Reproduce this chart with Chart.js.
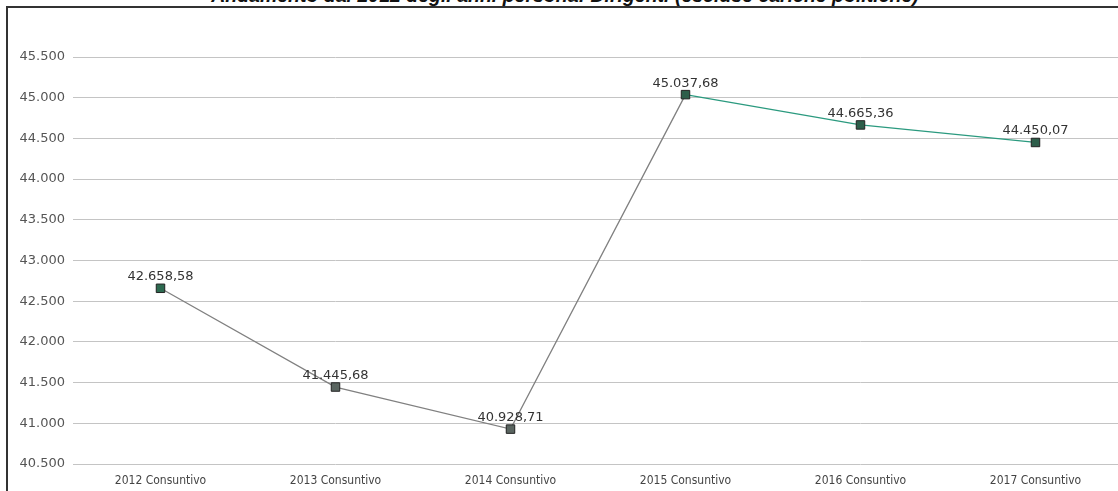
<!DOCTYPE html>
<html lang="it">
<head>
  <meta charset="UTF-8" />
  <title>Andamento anni persona - Dirigenti</title>
  <script src="https://cdn.jsdelivr.net/npm/chart.js"></script>
  <style>
    html, body {
      margin: 0;
      padding: 0;
      background: #fff;
      overflow: hidden;
      width: 1118px;
      height: 491px;
    }
    .title {
      position: absolute;
      left: 0;
      width: 1130px;
      top: -15px;
      line-height: 20px;
      text-align: center;
      font-family: "Liberation Sans", Arial, sans-serif;
      font-weight: bold;
      font-style: italic;
      font-size: 19.5px;
      color: #111;
      white-space: nowrap;
    }
    .frame {
      position: absolute;
      left: 6px;
      top: 6px;
      width: 1124px;
      height: 485px;
      border-left: 2px solid #333;
      border-top: 2px solid #333;
      box-sizing: border-box;
    }
    canvas { display: block; }
  </style>
</head>
<body>

  <div class="title">Andamento dal 2012 degli anni persona: Dirigenti (escluse cariche politiche)</div>
  <div class="frame">
    <canvas id="mainChart" width="1122" height="483"></canvas>
  </div>

  <script>
    const categories = ["2012 Consuntivo", "2013 Consuntivo", "2014 Consuntivo",
                        "2015 Consuntivo", "2016 Consuntivo", "2017 Consuntivo"];
    const anniPersona = [42658.58, 41445.68, 40928.71, 45037.68, 44665.36, 44450.07];
    const markerColors = ["#2d6a50", "#5a6560", "#5a6560", "#2d5e4a", "#2d5e4a", "#2d5e4a"];

    // formato italiano: 45.500 / 42.658,58
    function fmtInt(v) {
      return String(Math.round(v)).replace(/\B(?=(\d{3})+(?!\d))/g, ".");
    }
    function fmtDec(v) {
      const parts = v.toFixed(2).split(".");
      return parts[0].replace(/\B(?=(\d{3})+(?!\d))/g, ".") + "," + parts[1];
    }

    const valueLabels = {
      id: "valueLabels",
      afterDatasetsDraw(chart) {
        const ctx = chart.ctx;
        const meta = chart.getDatasetMeta(0);
        ctx.save();
        ctx.font = "13px 'DejaVu Sans', Verdana, sans-serif";
        ctx.fillStyle = "#333";
        ctx.textAlign = "center";
        ctx.textBaseline = "bottom";
        meta.data.forEach((pt, i) => {
          ctx.fillText(fmtDec(anniPersona[i]), pt.x, pt.y - 5);
        });
        ctx.restore();
      }
    };

    new Chart(document.getElementById("mainChart"), {
      type: "line",
      data: {
        labels: categories,
        datasets: [{
          data: anniPersona,
          borderColor: "#808080",
          borderWidth: 1.3,
          pointStyle: "rect",
          pointRadius: 6,
          pointBorderWidth: 1,
          pointBorderColor: "#222",
          pointBackgroundColor: markerColors,
          tension: 0,
          segment: {
            borderColor: c => c.p0DataIndex >= 3 ? "#2b9a7f" : "#808080"
          }
        }]
      },
      plugins: [valueLabels],
      options: {
        responsive: false,
        animation: false,
        layout: { padding: { top: 49, right: 0, left: 0, bottom: 0 } },
        plugins: {
          legend: { display: false },
          tooltip: { enabled: false }
        },
        scales: {
          x: {
            offset: true,
            grid: { display: false, drawTicks: false },
            border: { display: false },
            ticks: {
              padding: 10,
              maxRotation: 0,
              color: "#444",
              font: { family: "'DejaVu Sans Condensed', 'DejaVu Sans', sans-serif", size: 12 }
            },
            afterFit: s => { s.height = 27; }
          },
          y: {
            min: 40500,
            max: 45500,
            grid: { color: "#c4c4c4", lineWidth: 1, drawTicks: false },
            border: { display: false },
            ticks: {
              stepSize: 500,
              padding: 8,
              color: "#555",
              font: { family: "'DejaVu Sans', Verdana, sans-serif", size: 13 },
              callback: v => fmtInt(v)
            },
            afterFit: s => { s.width = 65; }
          }
        }
      }
    });
  </script>
</body>
</html>
